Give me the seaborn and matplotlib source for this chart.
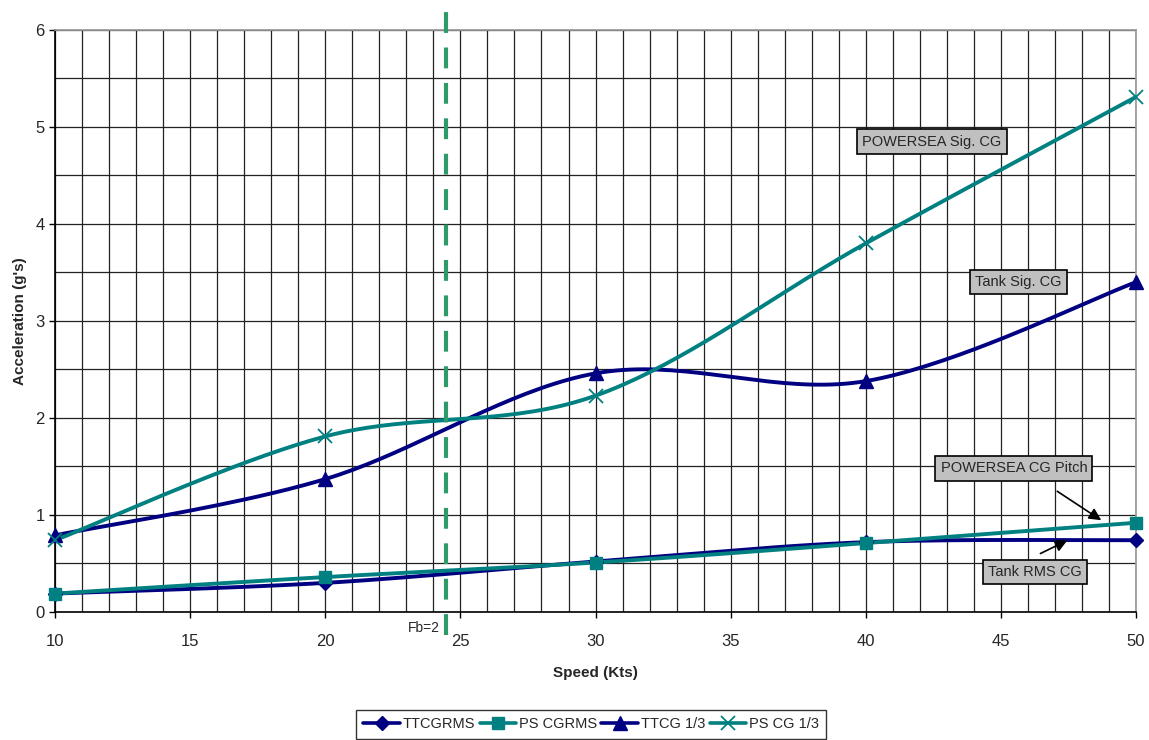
import numpy as np
import pandas as pd
import seaborn as sns
import matplotlib.pyplot as plt
from matplotlib.lines import Line2D

# speeds where the data were taken
speed = [10, 20, 30, 40, 50]

# accelerations (g's)
tt_cg_rms = [0.19, 0.30, 0.52, 0.72, 0.74]
ps_cg_rms = [0.19, 0.36, 0.51, 0.71, 0.92]
tt_cg_13 = [0.79, 1.37, 2.46, 2.38, 3.40]
ps_cg_13 = [0.74, 1.81, 2.23, 3.80, 5.31]

series_names = ['TTCGRMS', 'PS CGRMS', 'TTCG 1/3', 'PS CG 1/3']
fb_speed = 24.47

NAVY = '#000080'
TEAL = '#008080'


def smooth(x, y, n=40):
    # Excel-like smoothed line (Catmull-Rom through the points)
    x = np.asarray(x, float)
    y = np.asarray(y, float)
    px = np.concatenate([[x[0]], x, [x[-1]]])
    py = np.concatenate([[y[0]], y, [y[-1]]])
    xs, ys = [], []
    t = np.linspace(0, 1, n)
    for i in range(1, len(px) - 2):
        p0, p1, p2, p3 = px[i - 1], px[i], px[i + 1], px[i + 2]
        q0, q1, q2, q3 = py[i - 1], py[i], py[i + 1], py[i + 2]
        bx = [p1, p1 + (p2 - p0) / 6, p2 - (p3 - p1) / 6, p2]
        by = [q1, q1 + (q2 - q0) / 6, q2 - (q3 - q1) / 6, q2]
        b = [(1 - t) ** 3, 3 * (1 - t) ** 2 * t, 3 * (1 - t) * t ** 2, t ** 3]
        xs.append(sum(b[k] * bx[k] for k in range(4)))
        ys.append(sum(b[k] * by[k] for k in range(4)))
    return np.concatenate(xs), np.concatenate(ys)


sns.set_theme(style='white')
plt.rcParams['font.family'] = ['Liberation Sans', 'DejaVu Sans']

fig = plt.figure(figsize=(11.49, 7.40), dpi=100)
ax = fig.add_axes([0.0479, 0.173, 0.9408, 0.7865])

styles = [
    (tt_cg_rms, NAVY, 'D', 7),
    (ps_cg_rms, TEAL, 's', 9),
    (tt_cg_13, NAVY, '^', 10),
    (ps_cg_13, TEAL, 'x', 10),
]

handles = []
for name, (vals, col, mk, ms) in zip(series_names, styles):
    sx, sy = smooth(speed, vals)
    sns.lineplot(x=sx, y=sy, color=col, lw=2.8, sort=False, ax=ax, zorder=3)
    df = pd.DataFrame({'speed': speed, 'acc': vals})
    ax.plot(df['speed'], df['acc'], ls='none', marker=mk, ms=ms, color=col,
            mec=col, mew=1.3 if mk == 'x' else 1, zorder=4, clip_on=False)
    handles.append(Line2D([], [], color=col, lw=2.6, marker=mk, ms=ms,
                          mew=1.3 if mk == 'x' else 1, label=name))

ax.set_xlim(10, 50)
ax.set_ylim(0, 6)
ax.set_xticks([10, 15, 20, 25, 30, 35, 40, 45, 50])
ax.set_xticks(range(10, 51), minor=True)
ax.set_yticks(range(0, 7))
ax.set_yticks(np.arange(0, 6.01, 0.5), minor=True)
ax.grid(which='both', color='#222222', lw=0.9)
ax.set_axisbelow(True)
ax.tick_params(axis='both', which='major', labelsize=12, length=4, width=1,
               direction='out', color='black', bottom=True, left=True)
ax.tick_params(which='minor', length=0)
ax.tick_params(axis='x', pad=12)
for s in ['top', 'right']:
    ax.spines[s].set_color('#999999')
for s in ['left', 'bottom']:
    ax.spines[s].set_color('black')
    ax.spines[s].set_linewidth(1.2)

ax.set_xlabel('Speed (Kts)', fontsize=11, fontweight='bold', labelpad=12)
ax.set_ylabel("Acceleration (g's)", fontsize=11, fontweight='bold', labelpad=6)

# Fb=2 line
ax.plot([fb_speed, fb_speed], [-0.24, 6.23], color='#2e9a6a', lw=3,
        dashes=(5, 3.5), clip_on=False, zorder=5)
ax.text(23.65, -0.17, 'Fb=2', fontsize=10, ha='center', va='center')

box = dict(boxstyle='square,pad=0.35', fc='#c0c0c0', ec='black', lw=1.2)
ax.text(42.45, 4.85, 'POWERSEA Sig. CG', fontsize=10.5, ha='center', va='center', bbox=box)
ax.text(45.66, 3.40, 'Tank Sig. CG', fontsize=10.5, ha='center', va='center', bbox=box)
ax.text(45.48, 1.48, 'POWERSEA CG Pitch', fontsize=10.5, ha='center', va='center', bbox=box)
ax.text(46.26, 0.41, 'Tank RMS CG', fontsize=10.5, ha='center', va='center', bbox=box)
arr = dict(arrowstyle='-|>', color='black', lw=1.2, mutation_scale=18)
ax.annotate('', xy=(48.8, 0.93), xytext=(47.0, 1.26), arrowprops=arr)
ax.annotate('', xy=(47.55, 0.75), xytext=(46.37, 0.59), arrowprops=arr)

leg = fig.legend(handles=handles, loc='lower center', ncol=4,
                 bbox_to_anchor=(0.5145, -0.008), fontsize=10.5, frameon=True,
                 fancybox=False, handlelength=2.5, handletextpad=0.2,
                 columnspacing=0.3, borderpad=0.5)
leg.get_frame().set_edgecolor('black')
leg.get_frame().set_linewidth(1)

fig.savefig('out.png', dpi=100)
